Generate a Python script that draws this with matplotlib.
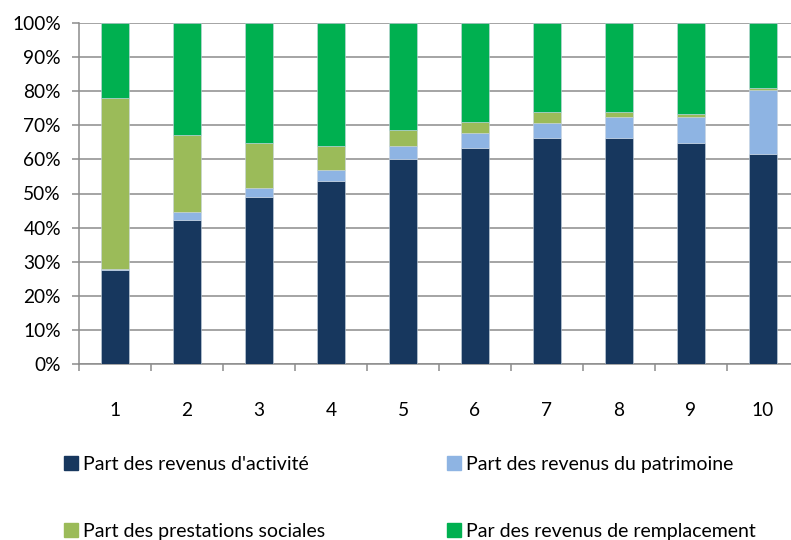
import matplotlib
matplotlib.use("Agg")
import matplotlib.pyplot as plt
import matplotlib.patches as mpatches
import numpy as np

plt.rcParams['font.family'] = ['Lato', 'DejaVu Sans']

# ------------------------------------------------------------------
# Data (shares in %, per decile)
# ------------------------------------------------------------------
deciles = ['1', '2', '3', '4', '5', '6', '7', '8', '9', '10']
activite = [27.5, 42.2, 49.0, 53.7, 60.1, 63.4, 66.2, 66.2, 64.8, 61.6]
patrimoine = [0.5, 2.5, 2.7, 3.2, 3.9, 4.3, 4.6, 6.2, 7.6, 18.7]
prestations = [50.0, 22.6, 13.2, 7.0, 4.7, 3.2, 3.0, 1.4, 1.0, 0.5]
remplacement = [22.0, 32.7, 35.1, 36.1, 31.3, 29.1, 26.2, 26.2, 26.6, 19.2]

labels = ["Part des revenus d'activité", "Part des revenus du patrimoine",
          "Part des prestations sociales", "Par des revenus de remplacement"]
colors = ['#17375E', '#8EB4E3', '#9BBB59', '#00B050']

# ------------------------------------------------------------------
fig = plt.figure(figsize=(7.91, 5.40), dpi=100)
W, H = 791, 540
# axes box in pixels: left 79, right 799 (cropped), top 23, bottom 364
ax = fig.add_axes([79 / W, (H - 364) / H, 720 / W, 341 / H])

x = np.arange(len(deciles))
series = [activite, patrimoine, prestations, remplacement]
bottom = np.zeros(len(deciles))
for vals, col in zip(series, colors):
    ax.bar(x, vals, width=0.4, bottom=bottom, color=col,
           edgecolor='#c8d4e0', linewidth=0.4, zorder=3)
    bottom += np.array(vals)

ax.set_xlim(-0.5, len(deciles) - 0.5)
ax.set_ylim(0, 100)
ax.set_yticks(np.arange(0, 101, 10))
ax.set_yticklabels([f'{v}%' for v in range(0, 101, 10)])
ax.set_xticks(x)
ax.set_xticklabels(deciles)
ax.set_xticks(np.arange(-0.5, len(deciles), 1), minor=True)

grid_col = '#8c8c8c'
ax.yaxis.grid(True, color=grid_col, linewidth=1.1, zorder=0)
ax.set_axisbelow(True)
for side in ['top', 'right']:
    ax.spines[side].set_visible(False)
for side in ['left', 'bottom']:
    ax.spines[side].set_color(grid_col)
    ax.spines[side].set_linewidth(1.1)

ax.tick_params(axis='y', direction='out', length=5, width=1.1, color=grid_col,
               labelsize=13.8, pad=8)
ax.tick_params(axis='x', which='major', length=0, labelsize=13.8, pad=27)
ax.tick_params(axis='x', which='minor', direction='out', length=5,
               width=1.1, color=grid_col)

# ------------------------------------------------------------------
# Legend: two columns placed manually
handles = [mpatches.Patch(color=c) for c in colors]
leg_kw = dict(frameon=False, fontsize=14, handlelength=0.7,
              handleheight=0.7, handletextpad=0.3, labelspacing=2.55,
              borderaxespad=0, borderpad=0)
leg1 = fig.legend([handles[0], handles[2]], [labels[0], labels[2]],
                  loc='upper left', bbox_to_anchor=(64 / W, (H - 456) / H),
                  **leg_kw)
leg2 = fig.legend([handles[1], handles[3]], [labels[1], labels[3]],
                  loc='upper left', bbox_to_anchor=(447 / W, (H - 456) / H),
                  **leg_kw)

fig.savefig('out.png', dpi=100)
